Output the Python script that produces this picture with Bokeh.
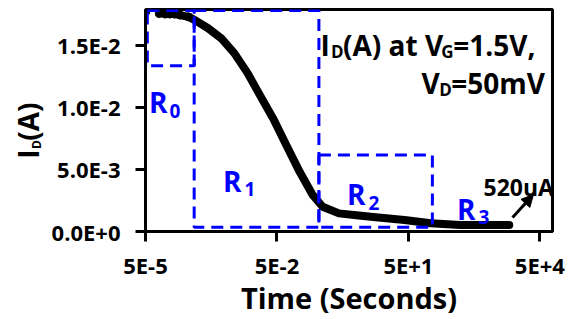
from bokeh.plotting import figure
from bokeh.layouts import row
from bokeh.models import Label, Arrow, NormalHead, FixedTicker, CustomJSTickFormatter, Range1d
from bokeh.core.properties import value
from bokeh.embed import file_html
from bokeh.resources import INLINE

# ---- data ----
time_s = [5.1e-5, 1.03e-4, 1.4e-4, 1.8e-4, 2.35e-4, 3.05e-4, 4.8e-4, 6.7e-4,
          1.34e-3, 2.66e-3, 5.3e-3, 1.06e-2, 2.1e-2, 4.18e-2, 8.3e-2, 0.166,
          0.329, 0.552, 1.3, 3.66, 10.3, 40.7, 161.0, 760.0, 1.0e4]
current_a = [1.77e-2, 1.753e-2, 1.749e-2, 1.749e-2, 1.749e-2, 1.741e-2, 1.727e-2, 1.701e-2,
             1.635e-2, 1.555e-2, 1.435e-2, 1.276e-2, 1.089e-2, 9.03e-3, 6.9e-3, 4.78e-3,
             2.92e-3, 1.99e-3, 1.46e-3, 1.28e-3, 1.12e-3, 9.3e-4, 6.6e-4, 5.3e-4, 5.2e-4]

x_tick_values = [5e-5, 5e-2, 5e1, 5e4]
x_tick_labels = ["5E-5", "5E-2", "5E+1", "5E+4"]
y_tick_values = [0.0, 5e-3, 1e-2, 1.5e-2]
y_tick_labels = ["0.0E+0", "5.0E-3", "1.0E-2", "1.5E-2"]

# region boxes R0, R1, R2 (R3 is open)
box_left = [5.5e-5, 6.45e-4, 0.453]
box_right = [6.45e-4, 0.453, 176.0]
box_bottom = [1.334e-2, 3.4e-4, 3.4e-4]
box_top = [1.777e-2, 1.777e-2, 6.16e-3]
region_subscripts = ["0", "1", "2", "3"]
end_label = "520uA"
x_title = "Time (Seconds)"

FONT = "Open Sans"
BLUE = "#0000FF"
PAGE_H = 319
LEFT_W = 48
GAP = 5
TOP_B, BOT_B = 9, 86

# ---------- strip that carries the rotated y-axis title ----------
side = figure(width=LEFT_W, height=PAGE_H, x_range=Range1d(0, LEFT_W),
              y_range=Range1d(BOT_B, PAGE_H - TOP_B),
              output_backend="svg", toolbar_location=None,
              x_axis_location=None, y_axis_location=None,
              min_border_left=0, min_border_right=0, min_border_top=TOP_B, min_border_bottom=BOT_B)
side.outline_line_color = None
side.xgrid.visible = False
side.ygrid.visible = False
side.background_fill_color = "white"
side.border_fill_color = "white"


def side_text(text, px, py, size):
    # (px, py): centre of the rotated text in page pixels
    side.text(x=[px], y=[PAGE_H - py], text=[text], angle=90, angle_units="deg",
              text_font=value(FONT), text_font_style="bold", text_font_size=f"{size}px",
              text_color="black", text_baseline="middle", text_align="center")


side_text("I", 27, 154.8, 28)
side_text("D", 36, 145.3, 12)
side_text("(A)", 27, 122.1, 28)

# ---------- main chart ----------
p = figure(width=575 - LEFT_W - GAP, height=PAGE_H, x_axis_type="log",
           x_range=Range1d(5e-5, 9.7e4), y_range=Range1d(0, 1.786e-2),
           output_backend="svg", toolbar_location=None,
           min_border_left=143 - LEFT_W - GAP, min_border_right=18,
           min_border_top=TOP_B, min_border_bottom=BOT_B)
p.background_fill_color = "white"
p.border_fill_color = "white"
p.xgrid.visible = False
p.ygrid.visible = False
p.outline_line_color = "black"
p.outline_line_width = 3

p.xaxis.ticker = FixedTicker(ticks=x_tick_values)
p.yaxis.ticker = FixedTicker(ticks=y_tick_values)
p.xaxis.formatter = CustomJSTickFormatter(args=dict(vals=x_tick_values, labels=x_tick_labels), code="""
let best = 0;
for (let i = 0; i < vals.length; i++) {
  if (Math.abs(Math.log10(vals[i]) - Math.log10(tick)) < Math.abs(Math.log10(vals[best]) - Math.log10(tick))) best = i;
}
return labels[best];
""")
p.yaxis.formatter = CustomJSTickFormatter(args=dict(vals=y_tick_values, labels=y_tick_labels), code="""
let best = 0;
for (let i = 0; i < vals.length; i++) {
  if (Math.abs(vals[i] - tick) < Math.abs(vals[best] - tick)) best = i;
}
return labels[best];
""")
for ax in (p.xaxis[0], p.yaxis[0]):
    ax.axis_line_width = 3
    ax.axis_line_color = "black"
    ax.major_tick_line_width = 3
    ax.major_tick_line_color = "black"
    ax.major_tick_out = 10
    ax.major_tick_in = 0
    ax.minor_tick_line_color = None
    ax.major_label_text_font = FONT
    ax.major_label_text_font_style = "bold"
    ax.major_label_text_font_size = "22px"
    ax.major_label_text_color = "black"
p.xaxis.major_label_standoff = 8
p.yaxis.major_label_standoff = 15
p.xaxis.axis_label = x_title
p.xaxis.axis_label_text_font = FONT
p.xaxis.axis_label_text_font_style = "bold"
p.xaxis.axis_label_text_font_size = "29px"
p.xaxis.axis_label_text_color = "black"
p.xaxis.axis_label_standoff = -5

# curve
p.line(time_s[5:], current_a[5:], line_width=8, line_color="black",
       line_cap="round", line_join="round")
p.scatter(time_s[:7], current_a[:7], size=8, color="black")

# region boxes
p.quad(left=box_left, right=box_right, bottom=box_bottom, top=box_top,
       fill_color=None, line_color=BLUE, line_width=3, line_dash="12 7")

# ---- texts inside the frame (page pixels -> frame screen units) ----
FRAME_LEFT_PX, FRAME_BOTTOM_PX = 143, 233


def lab(text, px, py, size, color="black"):
    p.add_layout(Label(x=px - FRAME_LEFT_PX, y=FRAME_BOTTOM_PX - py,
                       x_units="screen", y_units="screen", text=text,
                       text_font=FONT, text_font_style="bold",
                       text_font_size=f"{size}px", text_color=color,
                       text_baseline="alphabetic", text_align="left"))


r_pos = [(146.5, 103, 167, 112), (220.5, 182, 242, 190),
         (344.5, 195, 366, 204), (454.5, 210, 476, 218)]
for sub, (rx, ry, sxp, syp) in zip(region_subscripts, r_pos):
    lab("R", rx, ry, 28, BLUE)
    lab(sub, sxp, syp, 19, BLUE)

lab("I", 318, 46, 28)
lab("D", 328.4, 53, 17)
lab("(A) at V", 340.5, 46, 28)
lab("G", 438.8, 53, 17)
lab("=1.5V,", 450.7, 46, 28)
lab("V", 419, 84, 28)
lab("D", 436.7, 91, 17)
lab("=50mV", 448.8, 84, 28)

lab(end_label, 481, 188, 23)
p.add_layout(Arrow(end=NormalHead(size=12, fill_color="black", line_color="black"),
                   x_start=510 - FRAME_LEFT_PX, y_start=FRAME_BOTTOM_PX - 219,
                   x_end=531 - FRAME_LEFT_PX, y_end=FRAME_BOTTOM_PX - 196,
                   start_units="screen", end_units="screen",
                   line_width=3, line_color="black"))

layout = row(side, p)
open("out.html", "w").write(file_html(layout, INLINE))
